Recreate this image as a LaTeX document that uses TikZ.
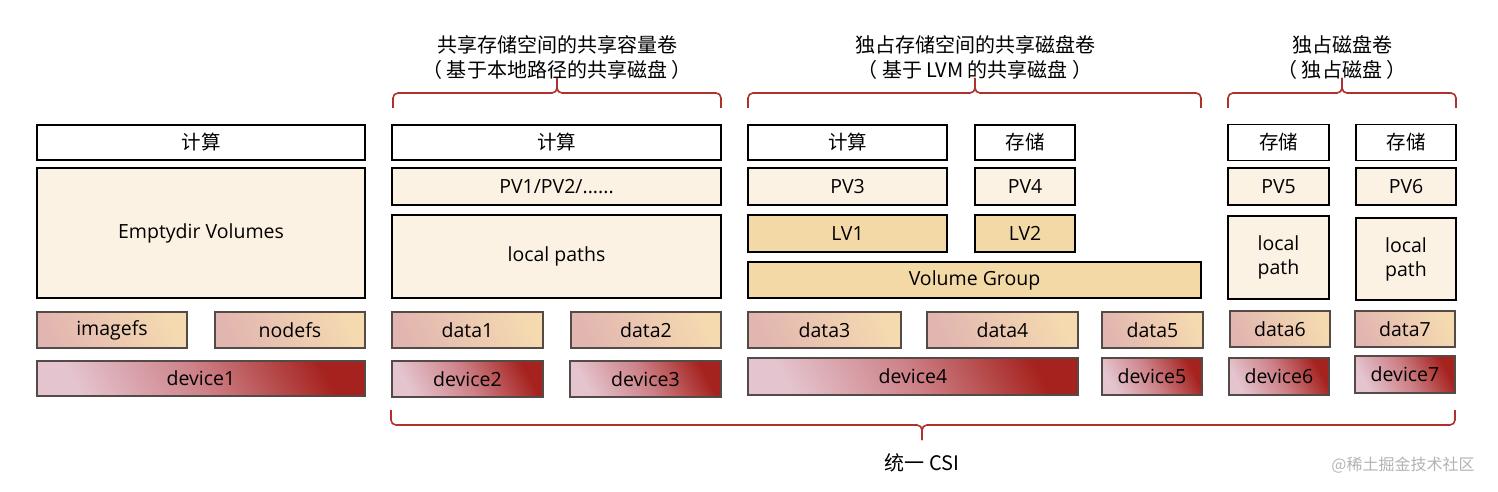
\documentclass[tikz,border=0pt]{standalone}
\usepackage{fontspec}
\setmainfont{Open Sans}
\newfontfamily\cjk{Noto Sans CJK SC}
\definecolor{cream}{RGB}{252,242,227}
\definecolor{tan}{RGB}{242,217,166}
\definecolor{bracered}{RGB}{176,48,44}
\definecolor{dataL}{RGB}{226,182,176}
\definecolor{dataR}{RGB}{245,218,176}
\definecolor{devL}{RGB}{228,196,206}
\definecolor{devM}{RGB}{205,128,135}
\definecolor{devR}{RGB}{165,34,30}
\definecolor{edge}{RGB}{85,75,70}
\begin{document}
\begin{tikzpicture}[x=1pt,y=-1pt,
  base/.style={draw=black,line width=1.5pt,inner sep=0pt,outer sep=0pt,align=center,
    font=\fontsize{19.5}{24}\selectfont},
  whitebox/.style={base,fill=white,font=\cjk\fontsize{19.5}{24}\selectfont},
  creambox/.style={base,fill=cream},
  tanbox/.style={base,fill=tan},
  databox/.style={base,draw=edge,line width=1.3pt,bottom color=dataL,top color=dataR,shading angle=-65},
  devbox/.style={base,draw=edge,line width=1.3pt,top color=devR,bottom color=devL,middle color=devM,shading angle=-62},
  brace/.style={draw=bracered,line width=1.6pt,rounded corners=5pt},
  title/.style={font=\cjk\fontsize{20}{24}\selectfont,inner sep=0pt},
  wh/.style 2 args={minimum width=#1pt,minimum height=#2pt}]
\useasboundingbox (0,0) rectangle (1498,492);
% column 1
\node[whitebox,wh={328}{35}] (c1) at (201,142.5) {计算};
\node[creambox,wh={328}{130}] (ev) at (201,233) {Emptydir Volumes};
\node[databox,wh={150}{36}] (imagefs) at (112,330) {imagefs};
\node[databox,wh={150}{36}] (nodefs) at (290,330) {nodefs};
\node[devbox,wh={328}{35}] (dev1) at (201,378.5) {device1};
% column 2
\node[whitebox,wh={329}{35}] (c2) at (556.5,142.5) {计算};
\node[creambox,wh={329}{37}] (pv12) at (556.5,186.5) {PV1/PV2/......};
\node[creambox,wh={329}{83}] (lp) at (556.5,256.5) {local paths};
\node[databox,wh={151}{36}] (data1) at (467.5,330) {data1};
\node[databox,wh={150}{36}] (data2) at (646,330) {data2};
\node[devbox,wh={151}{36}] (dev2) at (467.5,379) {device2};
\node[devbox,wh={151}{36}] (dev3) at (645.5,379) {device3};
% column 3
\node[whitebox,wh={199}{35}] (c3) at (847.5,142.5) {计算};
\node[whitebox,wh={100}{35}] (s4) at (1025,142.5) {存储};
\node[creambox,wh={199}{37}] (pv3) at (847.5,186.5) {PV3};
\node[creambox,wh={100}{37}] (pv4) at (1025,186.5) {PV4};
\node[tanbox,wh={199}{37}] (lv1) at (847.5,233.5) {LV1};
\node[tanbox,wh={100}{37}] (lv2) at (1025,233.5) {LV2};
\node[tanbox,wh={453}{36}] (vg) at (974.5,280) {Volume Group};
\node[databox,wh={153}{36}] (data3) at (824.5,330) {data3};
\node[databox,wh={151}{36}] (data4) at (1002.5,330) {data4};
\node[databox,wh={101}{36}] (data5) at (1152.5,330) {data5};
\node[devbox,wh={330}{37}] (dev4) at (913,376.5) {device4};
\node[devbox,wh={100}{37}] (dev5) at (1152,376.5) {device5};
% column 4
\node[whitebox,wh={101}{36}] (s5) at (1278.5,142.5) {存储};
\node[whitebox,wh={100}{36}] (s6) at (1406,142.5) {存储};
\node[creambox,wh={101}{37}] (pv5) at (1278.5,186.5) {PV5};
\node[creambox,wh={100}{37}] (pv6) at (1406,186.5) {PV6};
\node[creambox,wh={101}{83}] (lp5) at (1278.5,257.5) {local\\path};
\node[creambox,wh={100}{82}] (lp6) at (1406,259) {local\\path};
\node[databox,wh={100}{36}] (data6) at (1280,329) {data6};
\node[databox,wh={100}{36}] (data7) at (1405,329) {data7};
\node[devbox,wh={100}{37}] (dev6) at (1279,376.5) {device6};
\node[devbox,wh={100}{37}] (dev7) at (1405,374.5) {device7};
% titles
\node[title] (t2a) at (557,45) {共享存储空间的共享容量卷};
\node[title] (t2b) at (557,70) {（ 基于本地路径的共享磁盘 ）};
\node[title] (t3a) at (975,45) {独占存储空间的共享磁盘卷};
\node[title] (t3b) at (975,70) {（ 基于 LVM 的共享磁盘 ）};
\node[title] (t4a) at (1342,45) {独占磁盘卷};
\node[title] (t4b) at (1342,70) {（ 独占磁盘 ）};
\node[title] (csi) at (922,463) {统一 CSI};
\node[font=\cjk\fontsize{16}{20}\selectfont,text=black!30,inner sep=0pt] (wm) at (1403,465) {@稀土掘金技术社区};
% braces
\draw[brace] (393,108) -- (393,93) -- (557,93) -- (557,78);
\draw[brace] (557,78) -- (557,93) -- (721,93) -- (721,108);
\draw[brace] (748,108) -- (748,93) -- (975,93) -- (975,78);
\draw[brace] (975,78) -- (975,93) -- (1201,93) -- (1201,108);
\draw[brace] (1228,108) -- (1228,93) -- (1342,93) -- (1342,78);
\draw[brace] (1342,78) -- (1342,93) -- (1456,93) -- (1456,108);
\draw[brace] (391,410) -- (391,425) -- (922,425) -- (922,440);
\draw[brace] (922,440) -- (922,425) -- (1455,425) -- (1455,410);
\end{tikzpicture}
\end{document}
